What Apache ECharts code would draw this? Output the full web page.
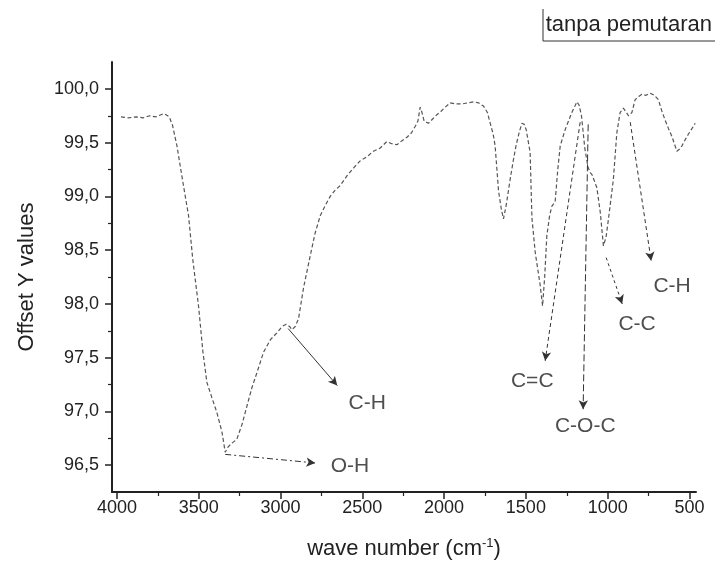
<!DOCTYPE html>
<html>
<head>
<meta charset="utf-8">
<script src="https://cdn.jsdelivr.net/npm/echarts@6/dist/echarts.min.js"></script>
<style>html,body{margin:0;padding:0;background:#fff}#c{width:715px;height:567px}</style>
</head>
<body>
<div id="c"></div>
<script>
// ---- data ----
const wavenumbers = [3975,3930,3880,3840,3800,3760,3730,3715,3700,3680,3660,3633,3603,3562,3536,3501,3474,3450,3420,3389,3358,3338,3320,3300,3267,3235,3205,3175,3144,3104,3060,3022,2990,2965,2945,2930,2910,2890,2859,2818,2788,2757,2725,2696,2665,2635,2594,2550,2513,2470,2432,2390,2350,2320,2289,2255,2227,2200,2177,2160,2146,2135,2122,2095,2070,2044,2020,1993,1963,1930,1891,1855,1820,1790,1759,1735,1718,1700,1688,1667,1650,1637,1620,1596,1575,1559,1540,1524,1510,1498,1474,1463,1443,1413,1398,1385,1372,1355,1341,1321,1305,1290,1260,1219,1200,1188,1175,1160,1140,1120,1106,1095,1066,1045,1026,1010,995,965,944,924,904,885,873,852,832,810,791,765,740,715,690,670,649,628,608,590,577,560,546,525,506,485,465];
const transmittance = [99.74,99.73,99.74,99.73,99.75,99.74,99.76,99.77,99.76,99.74,99.66,99.47,99.19,98.82,98.41,97.98,97.55,97.27,97.13,96.99,96.81,96.62,96.67,96.70,96.74,96.88,97.05,97.22,97.36,97.55,97.67,97.73,97.79,97.81,97.79,97.76,97.79,97.86,98.15,98.45,98.66,98.82,98.92,99.00,99.06,99.10,99.19,99.27,99.33,99.37,99.42,99.45,99.51,99.49,99.48,99.52,99.55,99.59,99.65,99.70,99.83,99.78,99.70,99.68,99.72,99.76,99.79,99.83,99.87,99.86,99.86,99.87,99.88,99.87,99.84,99.78,99.68,99.58,99.47,99.05,98.88,98.79,98.92,99.16,99.35,99.48,99.60,99.68,99.67,99.62,99.41,98.80,98.48,98.18,97.98,98.25,98.63,98.82,98.91,98.95,99.25,99.47,99.62,99.78,99.84,99.88,99.85,99.75,99.45,99.27,99.22,99.20,99.08,98.85,98.54,98.62,98.79,99.16,99.59,99.78,99.82,99.78,99.75,99.78,99.90,99.93,99.95,99.94,99.96,99.94,99.90,99.80,99.71,99.63,99.56,99.48,99.42,99.44,99.47,99.53,99.58,99.63,99.68];
const seriesName = 'tanpa pemutaran';
const xTicks = [4000,3500,3000,2500,2000,1500,1000,500];
const xMinorTicks = [3750,3250,2750,2250,1750,1250,750];
const yTicks = [96.5,97.0,97.5,98.0,98.5,99.0,99.5,100.0];
const yMinorTicks = [96.75,97.25,97.75,98.25,98.75,99.25,99.75];
// annotations: label, arrow start [wn, value], arrow end [wn, value], label position [wn, value]
const annNames = ['O-H','C-H','C=C','C-O-C','C-C','C-H'];
const annStart = [[3338,96.60],[2953,97.77],[1168,99.69],[1119,99.67],[1009,98.43],[862,99.69]];
const annEnd   = [[2787,96.52],[2653,97.24],[1382,97.47],[1150,97.02],[911,98.00],[734,98.40]];
const annLabel = [[2575,96.49],[2470,97.08],[1461,97.28],[1137,96.86],[820,97.81],[606,98.16]];
const annDash  = [[6,3,2,3],'solid',[4,3],[7,3],[3,3],[4,3]];

const FONT = '"Liberation Sans", Arial, sans-serif';
const chart = echarts.init(document.getElementById('c'), null, {renderer:'canvas'});
const fmtY = v => v.toFixed(1).replace('.', ',');

const markData = annNames.map((n,i)=>[
  {coord: annStart[i], lineStyle:{type: annDash[i]}},
  {coord: annEnd[i]}
]);

chart.setOption({
  animation:false,
  backgroundColor:'#fff',
  textStyle:{fontFamily:FONT},
  grid:{left:112, right:19, top:62, bottom:75},
  legend:{
    data:[seriesName], right:3, top:14, icon:'none', itemWidth:0, itemGap:0, padding:0,
    textStyle:{fontSize:22, color:'#222', fontFamily:FONT, padding:[0,0,0,0]}
  },
  xAxis:[{
    type:'value', inverse:true, min:460, max:4030,
    name:'wave number (cm{sup|-1})', nameLocation:'middle', nameGap:45,
    nameTextStyle:{fontSize:22, color:'#222', fontFamily:FONT,
      rich:{sup:{fontSize:13, color:'#222', fontFamily:FONT, verticalAlign:'top', padding:[0,0,11,0]}}},
    axisLine:{show:true, onZero:false, lineStyle:{color:'#222', width:2}},
    axisTick:{show:true, customValues:xTicks, length:7, inside:false, lineStyle:{color:'#222', width:1.5}},
    axisLabel:{customValues:xTicks, margin:7, fontSize:18, color:'#222', fontFamily:FONT, formatter:v=>String(v)},
    splitLine:{show:false}
  },{
    type:'value', inverse:true, min:460, max:4030, position:'bottom',
    axisLine:{show:false},
    axisTick:{show:true, customValues:xMinorTicks, length:4, lineStyle:{color:'#222', width:1.2}},
    axisLabel:{show:false}, splitLine:{show:false}
  }],
  yAxis:[{
    type:'value', min:96.25, max:100.25,
    name:'Offset Y values', nameLocation:'middle', nameGap:74, nameRotate:90,
    nameTextStyle:{fontSize:22, color:'#222', fontFamily:FONT},
    axisLine:{show:true, onZero:false, lineStyle:{color:'#222', width:2}},
    axisTick:{show:true, customValues:yTicks, length:7, lineStyle:{color:'#222', width:1.5}},
    axisLabel:{customValues:yTicks, margin:13, fontSize:18, color:'#222', fontFamily:FONT, formatter:fmtY},
    splitLine:{show:false}
  },{
    type:'value', min:96.25, max:100.25, position:'left',
    axisLine:{show:false},
    axisTick:{show:true, customValues:yMinorTicks, length:4, lineStyle:{color:'#222', width:1.2}},
    axisLabel:{show:false}, splitLine:{show:false}
  }],
  series:[{
    name:seriesName, type:'line', xAxisIndex:0, yAxisIndex:0,
    data: wavenumbers.map((w,i)=>[w, transmittance[i]]),
    symbol:'none', smooth:false,
    lineStyle:{color:'#555', width:1.2, type:[4,2.5]},
    markLine:{
      silent:true, symbol:['none','arrow'], symbolSize:[7,9], label:{show:false},
      lineStyle:{color:'#333', width:1}, emphasis:{disabled:true},
      data: markData
    }
  },{
    name:'labels', type:'scatter', xAxisIndex:0, yAxisIndex:0, symbolSize:0,
    data: annNames.map((n,i)=>[annLabel[i][0], annLabel[i][1], n]),
    label:{show:true, position:'inside', formatter:p=>p.data[2], fontSize:21, color:'#222', fontFamily:FONT},
    silent:true
  }],
  graphic:[{
    type:'polyline', silent:true,
    shape:{points:[[543,9],[543,41],[715,41]]},
    style:{stroke:'#333', lineWidth:1, fill:null}
  }]
});
</script>
</body>
</html>
